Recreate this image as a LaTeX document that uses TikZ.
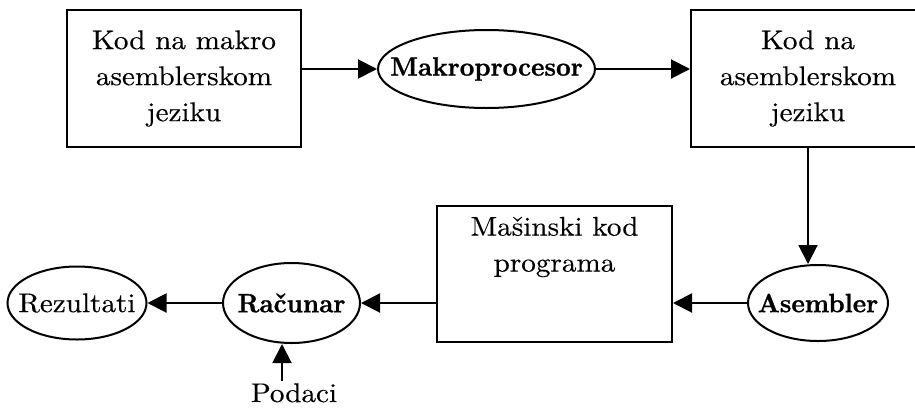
\documentclass[tikz,border=0pt]{standalone}
\usepackage{fontspec}
\usetikzlibrary{shapes.geometric,arrows.meta}
% wide roman for the labels, bold for the processing steps
\newfontfamily\labelfont{lmroman10-regular.otf}[FakeStretch=1.08, FakeBold=0.3]
\newfontfamily\headfont{lmroman10-bold.otf}[FakeStretch=0.96, FakeBold=0.9]
\newcommand{\onecentered}[1]{\makebox[0pt]{#1}}
\begin{document}
\begin{tikzpicture}[x=1pt,y=-1pt,
  every node/.style={font=\labelfont\fontsize{27}{36}\selectfont, align=center, inner sep=0pt},
  head/.style={font=\headfont\fontsize{26.5}{36}\selectfont},
  box/.style={draw, line width=2pt, rectangle},
  oval/.style={draw, line width=2pt, ellipse},
  flow/.style={line width=2pt, -{Triangle[length=19pt,width=19pt]}}]
\useasboundingbox (0,0) rectangle (915,408);

% top row
\node[box, minimum width=234pt, minimum height=137pt] (macro) at (184,78.5)
  {Kod na makro\\asemblerskom\\jeziku};
\node[oval, minimum width=217pt, minimum height=78pt, head] (mp) at (486.5,69)
  {\onecentered{Makroprocesor}};
\node[box, minimum width=234pt, minimum height=137pt] (asm) at (808,78.5)
  {Kod na\\asemblerskom\\jeziku};

% bottom row
\node[oval, minimum width=140pt, minimum height=76pt, head] (as) at (818,303)
  {\onecentered{Asembler}};
\node[box, minimum width=235pt, minimum height=136pt] (mk) at (554.5,274) {};
\node (mkt) at (554.5,247) {Mašinski kod\\programa};
\node[oval, minimum width=137pt, minimum height=80pt, head] (rc) at (291.5,303)
  {\onecentered{Računar}};
\node[oval, minimum width=139pt, minimum height=73pt] (rz) at (77,303)
  {\onecentered{Rezultati}};
\node[anchor=base] (pd) at (294,402) {Podaci};

\coordinate (pdt) at (282,381);
\coordinate (asmb) at (808,147);

% connectors
\draw[flow] (macro.east |- mp.west) -- (mp.west);
\draw[flow] (mp.east) -- (asm.west |- mp.east);
\draw[flow] (asmb) -- (asmb |- as.north);
\draw[flow] (as.west) -- (mk.east |- as.west);
\draw[flow] (mk.west |- rc.east) -- (rc.east);
\draw[flow] (rc.west) -- (rz.east);
\draw[flow] (pdt) -- (pdt |- rc.south);
\end{tikzpicture}
\end{document}
